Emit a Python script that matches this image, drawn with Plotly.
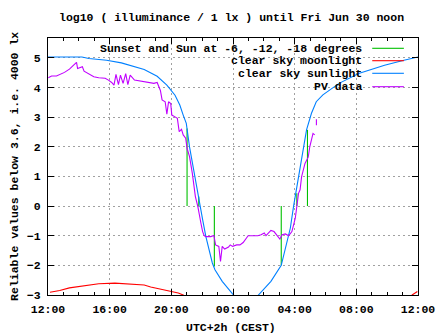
import plotly.graph_objects as go

# ---------------- data (hours since midnight of the first day) ----------------
sun_h = [12.0, 14.2, 14.65, 15.8, 16.76, 18.24, 19.08, 19.71, 20.24, 20.55,
         20.77, 20.97, 21.18, 21.40, 21.61, 21.82, 22.03, 22.24, 22.45, 22.66,
         22.83, 23.30, 23.97, 24.4, 25.3, 25.72, 26.46, 27.13, 27.51, 27.72,
         27.93, 28.14, 28.35, 28.56, 28.77, 29.09, 29.40, 29.83, 30.88, 32.15,
         33.83, 35.09, 35.72, 36.0]
sun_v = [5.03, 5.03, 4.98, 4.92, 4.83, 4.61, 4.38, 4.08, 3.74, 3.41,
         3.07, 2.79, 2.0, 1.33, 0.77, 0.1, -0.46, -1.03, -1.47, -1.92,
         -2.15, -2.54, -2.96, -3.2, -3.2, -2.96, -2.54, -2.0, -1.25, -0.74,
         0.0, 0.66, 1.33, 2.0, 2.57, 3.13, 3.52, 3.75, 4.14, 4.47,
         4.75, 4.92, 5.01, 5.03]

moon_h = [12.13, 12.76, 13.39, 14.23, 15.29, 16.34, 17.39, 18.24, 18.66, 19.71,
          20.45, 20.77, 21.1, None, 35.5, 35.62, 35.96]
moon_v = [-2.91, -2.85, -2.76, -2.69, -2.62, -2.60, -2.62, -2.66, -2.73, -2.85,
          -2.93, -3.0, -3.1, None, -3.1, -3.0, -2.88]

pv_h = [12.02, 12.23, 12.55, 12.76, 13.07, 13.39, 13.60, 13.85, 13.92, 14.23,
        14.34, 14.65, 14.97, 15.29, 15.71, 15.92, 16.13, 16.28, 16.41, 16.57,
        16.70, 16.87, 17.04, 17.18, 17.33, 17.61, 17.92, 18.24, 18.55, 18.87,
        19.08, 19.29, 19.40, 19.60, 19.71, 19.82, 19.96, 20.03, 20.24, 20.39,
        20.51, 20.66, 20.77, 20.93, 21.02, 21.18, 21.36, 21.46, 21.56, 21.72,
        21.82, 21.92, 22.03, 22.13, 22.24, 22.56, 22.76, 22.87, 23.08, 23.19,
        23.30, 23.46, 23.71, 23.82, 23.97, 24.24, 24.45, 24.66, 24.98, 25.61,
        25.82, 26.03, 26.14, 26.46, 26.66, 26.87, 27.04, 27.19, 27.40, 27.61,
        27.82, 28.04, 28.14, 28.25, 28.35, 28.45, 28.67, 28.77, 28.88, 28.98,
        29.09, 29.19, 29.30, None, 29.41, 29.41]
pv_v = [4.33, 4.39, 4.39, 4.44, 4.51, 4.62, 4.73, 4.85, 4.64, 4.70,
        4.55, 4.47, 4.36, 4.33, 4.31, 4.25, 4.17, 4.08, 4.44, 4.10,
        4.42, 4.14, 4.47, 4.10, 4.42, 4.25, 4.22, 4.19, 4.17, 4.14,
        4.17, 3.90, 3.58, 3.52, 3.10, 3.52, 3.46, 3.07, 3.01, 2.96,
        2.51, 2.59, 2.40, 2.29, 1.95, 1.67, 1.11, 0.66, 0.32, -0.02,
        -0.35, -0.58, -0.86, -1.00, -1.03, -1.03, -0.99, -1.31, -1.36, -1.87,
        -1.36, -1.45, -1.38, -1.31, -1.36, -1.31, -1.31, -1.23, -1.00, -1.00,
        -0.97, -0.91, -1.00, -0.82, -0.86, -1.00, -1.11, -0.97, -0.94, -1.00,
        -0.86, -0.41, -0.02, 0.43, 0.55, 0.99, 1.44, 1.56, 1.65, 2.00,
        2.29, 2.45, 2.40, None, 2.93, 2.73]

event_h = [21.02, 21.78, 22.79, 27.13, 28.14, 28.83]
event_top = [2.62, 0.32, -2.04, -2.0, 0.43, 2.57]

x_tickvals = [12, 16, 20, 24, 28, 32, 36]
x_ticktext = ["12:00", "16:00", "20:00", "00:00", "04:00", "08:00", "12:00"]
y_tickvals = [-3, -2, -1, 0, 1, 2, 3, 4, 5]

legend_names = ["Sunset and Sun at -6, -12, -18 degrees", "clear sky moonlight",
                "clear sky sunlight", "PV data"]

GREEN, RED, BLUE, PURPLE = "#00c000", "#ff0000", "#0080ff", "#c000ff"
legend_colors = [GREEN, RED, BLUE, PURPLE]

FONT = dict(family="Liberation Mono", size=11.5, color="black", weight="bold")
LW = 1.1

ev_x, ev_y = [], []
for h, t in zip(event_h, event_top):
    ev_x += [h, h, None]
    ev_y += [0, t, None]

fig = go.Figure()
fig.add_trace(go.Scatter(x=ev_x, y=ev_y, mode="lines", line=dict(color=GREEN, width=LW),
                         showlegend=False, hoverinfo="skip"))
fig.add_trace(go.Scatter(x=moon_h, y=moon_v, mode="lines", line=dict(color=RED, width=LW),
                         showlegend=False, hoverinfo="skip"))
fig.add_trace(go.Scatter(x=sun_h, y=sun_v, mode="lines", line=dict(color=BLUE, width=LW),
                         showlegend=False, hoverinfo="skip"))
fig.add_trace(go.Scatter(x=pv_h, y=pv_v, mode="lines", line=dict(color=PURPLE, width=LW),
                         showlegend=False, hoverinfo="skip"))

# plot area in pixels: x 48..428, y 38..295
PL, PR, PT, PB = 48, 428, 38, 295
def px(x):
    return (x - PL) / (PR - PL)
def py(y):
    return (PB - y) / (PB - PT)

shapes = [dict(type="rect", xref="paper", yref="paper", x0=px(98), x1=px(426),
               y0=py(92), y1=1.0, fillcolor="white", line=dict(width=0), layer="between")]
annotations = []
rows_y = [48.3, 60.7, 73.3, 86.7]
for name, col, ry in zip(legend_names, legend_colors, rows_y):
    annotations.append(dict(text=name, xref="paper", yref="paper", x=px(373), y=py(ry),
                            xanchor="right", yanchor="middle", showarrow=False, font=FONT))
    shapes.append(dict(type="line", xref="paper", yref="paper", x0=px(381), x1=px(413.5),
                       y0=py(ry), y1=py(ry), line=dict(color=col, width=LW), layer="above"))

annotations.append(dict(text="Reliable values below 3.6, i.e. 4000 lx", xref="paper", yref="paper",
                        x=px(13), y=py(166), textangle=-90, xanchor="center", yanchor="middle",
                        showarrow=False, font=FONT))
annotations.append(dict(text="UTC+2h (CEST)", xref="paper", yref="paper", x=px(236), y=py(327),
                        xanchor="center", yanchor="middle", showarrow=False, font=FONT))
annotations.append(dict(text="log10 ( illuminance / 1 lx ) until Fri Jun 30 noon", xref="paper",
                        yref="paper", x=px(236.5), y=py(17), xanchor="center", yanchor="middle",
                        showarrow=False, font=FONT))

fig.update_layout(
    width=447, height=335,
    margin=dict(l=PL, r=447 - PR, t=PT, b=335 - PB, pad=0),
    paper_bgcolor="white", plot_bgcolor="white",
    showlegend=False,
    font=FONT,
    shapes=shapes, annotations=annotations,
    xaxis=dict(range=[12, 36], tickvals=x_tickvals, ticktext=x_ticktext,
               ticks="inside", ticklen=6, tickwidth=1, tickcolor="black",
               showline=True, linecolor="black", linewidth=1, mirror="ticks",
               showgrid=True, gridcolor="#a0a0a0", gridwidth=1, griddash="2px,3px",
               zeroline=False, tickfont=FONT, fixedrange=True, ticklabelstandoff=3,
               minor=dict(dtick=1, tick0=12, ticks="inside", ticklen=3, tickcolor="black",
                          showgrid=False)),
    yaxis=dict(range=[-3, 5.67], tickvals=y_tickvals,
               ticks="inside", ticklen=6, tickwidth=1, tickcolor="black",
               showline=True, linecolor="black", linewidth=1, mirror="ticks",
               showgrid=True, gridcolor="#a0a0a0", gridwidth=1, griddash="2px,3px",
               zeroline=False, tickfont=FONT, fixedrange=True, ticklabelstandoff=4),
)

fig.write_html("out.html", config=dict(displayModeBar=False))
